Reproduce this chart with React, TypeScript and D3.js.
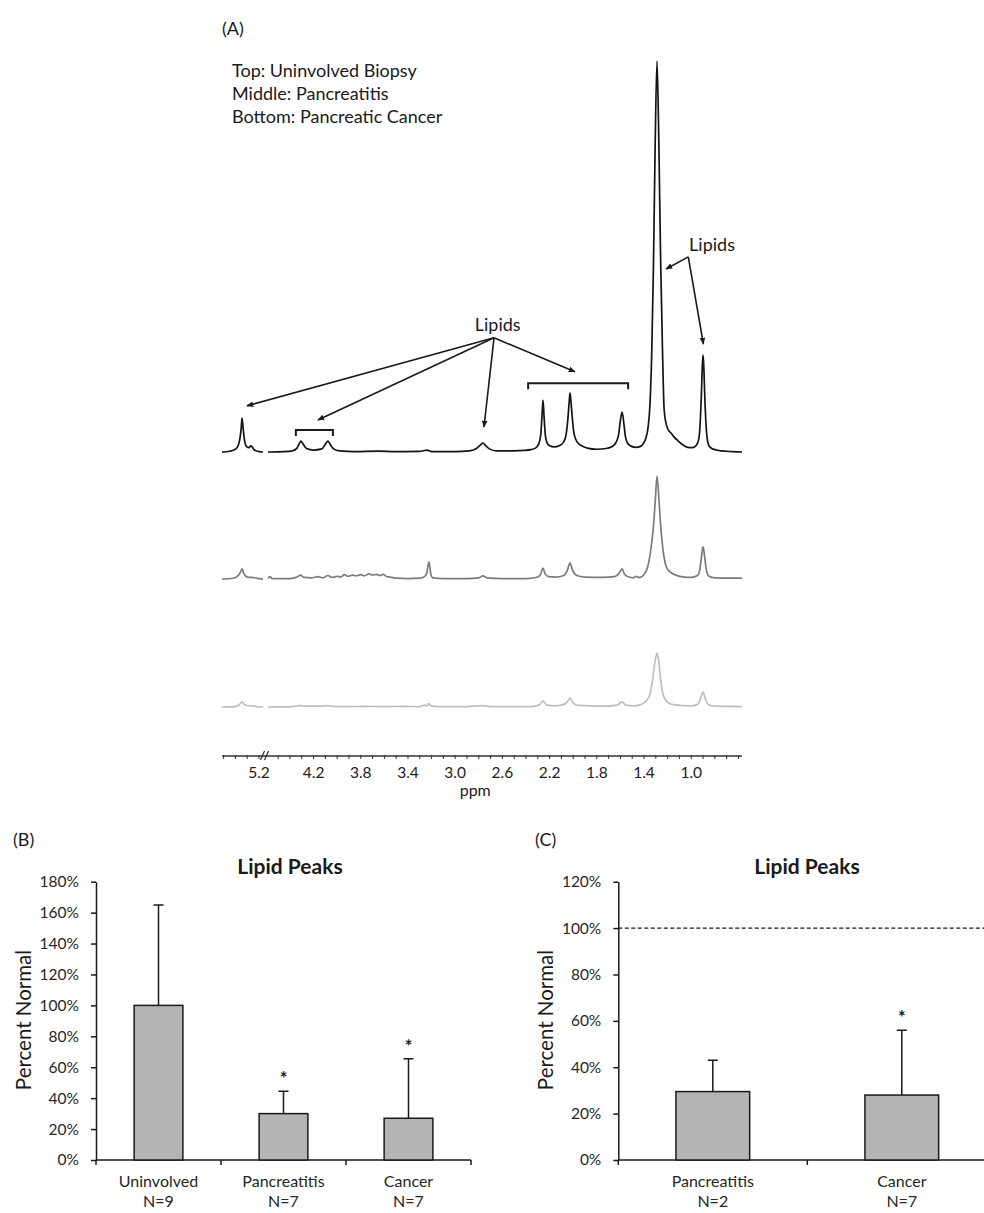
import { useRef, useEffect } from "react";
import * as d3 from "d3";

type Pt = [number, number];

// ---------- panel A: 1H spectra, [ppm, relative intensity] (tallest peak = 100)
const spectrumLabels = [
  "Top: Uninvolved Biopsy",
  "Middle: Pancreatitis",
  "Bottom: Pancreatic Cancer",
];
const ppmTickLabels = [5.2, 4.2, 3.8, 3.4, 3.0, 2.6, 2.2, 1.8, 1.4, 1.0];

const uninvolvedLow: Pt[] = [
  [5.514, 0], [5.45, 0.2], [5.4, 0.7], [5.375, 1.8], [5.36, 3.8], [5.35, 6.5],
  [5.344, 8.7], [5.336, 6.5], [5.323, 3], [5.305, 1.4], [5.285, 1.1], [5.27, 1.6],
  [5.258, 1.3], [5.24, 0.5], [5.2, 0.1], [5.166, 0],
];
const uninvolvedHigh: Pt[] = [
  [4.586, 0], [4.45, 0.1], [4.38, 0.3], [4.34, 1.0], [4.32, 2.2], [4.307, 2.8],
  [4.29, 2.1], [4.26, 0.9], [4.2, 0.5], [4.13, 0.8], [4.1, 2.0], [4.078, 2.8],
  [4.06, 2.0], [4.03, 0.8], [3.98, 0.3], [3.85, 0.1], [3.65, 0.2], [3.5, 0.1],
  [3.3, 0.15], [3.24, 0.5], [3.2, 0.1], [3.0, 0.1], [2.88, 0.3], [2.82, 0.9],
  [2.785, 1.8], [2.764, 2.3], [2.745, 1.7], [2.71, 0.8], [2.65, 0.3], [2.5, 0.3],
  [2.42, 0.4], [2.36, 0.6], [2.32, 1.0], [2.29, 2.2], [2.275, 4.5], [2.265, 9],
  [2.256, 13.3], [2.247, 9], [2.237, 4.5], [2.225, 2.6], [2.2, 1.6], [2.16, 1.3],
  [2.12, 1.6], [2.08, 2.6], [2.06, 4.5], [2.045, 8.5], [2.035, 12.5], [2.027, 15.1],
  [2.018, 12.5], [2.007, 8.5], [1.995, 5], [1.975, 3], [1.94, 1.8], [1.88, 1.0],
  [1.8, 0.7], [1.72, 0.9], [1.67, 1.4], [1.635, 2.6], [1.615, 4.5], [1.603, 7.5],
  [1.586, 10.2], [1.57, 7], [1.558, 4], [1.54, 2.3], [1.51, 1.5], [1.47, 1.2],
  [1.44, 1.3], [1.41, 2.0], [1.385, 3.5], [1.365, 6.5], [1.35, 12], [1.335, 25],
  [1.32, 48], [1.305, 80], [1.29, 100], [1.275, 80], [1.26, 50], [1.245, 28],
  [1.23, 11], [1.215, 7.5], [1.2, 6], [1.17, 4.8], [1.15, 4], [1.11, 2.8],
  [1.07, 1.8], [1.03, 1.2], [0.99, 1.1], [0.955, 1.8], [0.935, 3.5], [0.925, 7],
  [0.915, 14], [0.906, 22], [0.9, 24.8], [0.894, 22], [0.885, 14], [0.875, 7],
  [0.865, 3.5], [0.85, 1.6], [0.82, 0.8], [0.75, 0.3], [0.65, 0.1], [0.57, 0],
];

const pancreatitisLow: Pt[] = [
  [5.514, 0], [5.42, 0.2], [5.38, 0.8], [5.36, 1.6], [5.344, 2.6], [5.33, 1.5],
  [5.3, 0.5], [5.26, 0.4], [5.2, 0.1], [5.166, 0],
];
const pancreatitisHigh: Pt[] = [
  [4.586, 0.2], [4.57, 0.6], [4.55, 0.1], [4.4, 0.1], [4.34, 0.5], [4.31, 1.0],
  [4.28, 0.4], [4.22, 0.3], [4.16, 0.6], [4.12, 0.3], [4.08, 0.9], [4.04, 0.4],
  [4.0, 0.7], [3.97, 0.5], [3.94, 1.1], [3.91, 0.7], [3.87, 1.0], [3.84, 0.8],
  [3.8, 1.1], [3.77, 0.8], [3.73, 1.3], [3.7, 1.0], [3.67, 1.2], [3.64, 0.9],
  [3.61, 1.2], [3.58, 0.6], [3.55, 0.5], [3.5, 0.2], [3.4, 0.1], [3.3, 0.2],
  [3.26, 0.6], [3.24, 1.5], [3.23, 3.5], [3.222, 4.4], [3.214, 3.0], [3.205, 1.0],
  [3.19, 0.3], [3.1, 0.1], [2.9, 0.1], [2.8, 0.3], [2.764, 0.8], [2.73, 0.3],
  [2.6, 0.1], [2.4, 0.1], [2.3, 0.5], [2.275, 1.3], [2.256, 2.8], [2.238, 1.3],
  [2.21, 0.6], [2.15, 0.5], [2.08, 0.9], [2.05, 2.2], [2.027, 4.1], [2.005, 2.2],
  [1.97, 0.9], [1.9, 0.5], [1.75, 0.4], [1.65, 0.6], [1.61, 1.5], [1.586, 2.6],
  [1.565, 1.2], [1.53, 0.5], [1.49, 0.3], [1.47, 0.7], [1.45, 0.4], [1.42, 0.6],
  [1.4, 1.2], [1.37, 3], [1.35, 6], [1.32, 13.5], [1.305, 20], [1.29, 26.3],
  [1.275, 21], [1.26, 14], [1.245, 9], [1.23, 5.5], [1.21, 3], [1.18, 1.8],
  [1.13, 1], [1.06, 0.5], [1.0, 0.4], [0.95, 0.8], [0.93, 2], [0.918, 4.5],
  [0.908, 7], [0.9, 8.2], [0.892, 7], [0.882, 4.5], [0.87, 2], [0.85, 0.7],
  [0.8, 0.3], [0.57, 0.2],
];

const cancerLow: Pt[] = [
  [5.514, 0], [5.4, 0.1], [5.37, 0.5], [5.344, 1.3], [5.32, 0.5], [5.28, 0.3],
  [5.26, 0.35], [5.22, 0.1], [5.166, 0],
];
const cancerHigh: Pt[] = [
  [4.586, 0], [4.4, 0.05], [4.33, 0.3], [4.31, 0.4], [4.28, 0.2], [4.12, 0.2],
  [4.08, 0.35], [4.04, 0.15], [3.9, 0.1], [3.75, 0.15], [3.6, 0.1], [3.45, 0.15],
  [3.3, 0.1], [3.26, 0.5], [3.245, 0.3], [3.225, 0.9], [3.205, 0.3], [3.15, 0.1],
  [2.9, 0.1], [2.764, 0.35], [2.7, 0.1], [2.35, 0.1], [2.29, 0.5], [2.256, 1.5],
  [2.225, 0.5], [2.15, 0.3], [2.07, 0.8], [2.045, 1.6], [2.027, 2.3], [2.005, 1.2],
  [1.96, 0.4], [1.75, 0.2], [1.63, 0.5], [1.586, 1.3], [1.55, 0.4], [1.48, 0.3],
  [1.42, 0.7], [1.38, 1.6], [1.35, 3.2], [1.325, 7.5], [1.305, 12], [1.29, 13.8],
  [1.275, 11.5], [1.26, 7], [1.245, 4], [1.225, 2.2], [1.2, 1.2], [1.15, 0.6],
  [1.0, 0.3], [0.95, 0.6], [0.925, 1.8], [0.91, 3.2], [0.9, 3.8], [0.89, 3.1],
  [0.875, 1.6], [0.85, 0.5], [0.8, 0.2], [0.57, 0.1],
];

// annotation anchors on the top spectrum, in [ppm, intensity]
const lipidLabels: Pt[] = [[2.64, 30.9], [0.824, 51.4]];
const lipidArrows: { from: Pt; to: Pt }[] = [
  { from: [2.671, 29.2], to: [5.302, 11.8] },
  { from: [2.671, 29.2], to: [4.163, 8.2] },
  { from: [2.671, 29.2], to: [2.756, 6.4] },
  { from: [2.671, 29.2], to: [1.985, 20.5] },
  { from: [1.025, 49.9], to: [1.214, 46.8] },
  { from: [1.025, 49.9], to: [0.897, 27.6] },
];
const lipidBrackets = [
  { from: 4.35, to: 4.036, level: 5.6 },
  { from: 2.382, to: 1.535, level: 17.6 },
];

// ---------- panel B
const groupsB = ["Uninvolved", "Pancreatitis", "Cancer"];
const sizesB = ["N=9", "N=7", "N=7"];
const meansB = [100, 30, 27];
const errorsB = [65, 14.5, 38.5];
const starsB = [false, true, true];
const ticksB = [0, 20, 40, 60, 80, 100, 120, 140, 160, 180];

// ---------- panel C
const groupsC = ["Pancreatitis", "Cancer"];
const sizesC = ["N=2", "N=7"];
const meansC = [29.5, 28];
const errorsC = [13.5, 28];
const starsC = [false, true];
const ticksC = [0, 20, 40, 60, 80, 100, 120];
const referenceC = 100;

const FONT = "Lato, 'Open Sans', sans-serif";
const INK = "#1a1a1a";

const App = () => {
  const container = useRef<SVGSVGElement>(null);

  useEffect(() => {
    createChart();
  });

  const createChart = () => {
    const svg = d3.select(container.current);
    svg.selectAll("*").remove();

    svg
      .append("defs")
      .append("marker")
      .attr("id", "head")
      .attr("viewBox", "0 0 10 10")
      .attr("refX", 9)
      .attr("refY", 5)
      .attr("markerWidth", 7)
      .attr("markerHeight", 7)
      .attr("markerUnits", "userSpaceOnUse")
      .attr("orient", "auto")
      .append("path")
      .attr("d", "M0,1 L10,5 L0,9 z")
      .attr("fill", INK);

    // ---------------- (A) spectra
    const x = d3
      .scaleLinear()
      .domain([5.514, 5.166, 4.586, 0.57])
      .range([222, 263, 268, 742]);
    const h = d3.scaleLinear().domain([0, 100]).range([0, 391]);
    const baselines = [452, 579, 707];
    const colors = ["#141414", "#7b7b7b", "#bebebe"];
    const spectra = [
      [uninvolvedLow, uninvolvedHigh],
      [pancreatitisLow, pancreatitisHigh],
      [cancerLow, cancerHigh],
    ];

    const gA = svg.append("g").attr("font-family", FONT).attr("fill", INK);
    gA.append("text").attr("x", 222).attr("y", 35).attr("font-size", 18).text("(A)");
    gA.selectAll(".legend")
      .data(spectrumLabels)
      .join("text")
      .attr("class", "legend")
      .attr("x", 232)
      .attr("y", (d, i) => 77 + i * 23)
      .attr("font-size", 18)
      .text((d) => d);

    spectra.forEach((segs, i) => {
      const line = d3
        .line<Pt>()
        .x((d) => x(d[0]))
        .y((d) => baselines[i] - h(d[1]))
        .curve(d3.curveMonotoneX);
      segs.forEach((seg) => {
        gA.append("path")
          .datum(seg)
          .attr("d", line)
          .attr("fill", "none")
          .attr("stroke", colors[i])
          .attr("stroke-width", 1.7)
          .attr("stroke-linejoin", "round");
      });
    });

    // annotations on the top trace
    const ay = (v: number) => baselines[0] - h(v);
    gA.selectAll(".lipid-label")
      .data(lipidLabels)
      .join("text")
      .attr("class", "lipid-label")
      .attr("x", (d) => x(d[0]))
      .attr("y", (d) => ay(d[1]))
      .attr("text-anchor", "middle")
      .attr("font-size", 18)
      .text("Lipids");
    gA.selectAll(".lipid-arrow")
      .data(lipidArrows)
      .join("line")
      .attr("class", "lipid-arrow")
      .attr("x1", (d) => x(d.from[0]))
      .attr("y1", (d) => ay(d.from[1]))
      .attr("x2", (d) => x(d.to[0]))
      .attr("y2", (d) => ay(d.to[1]))
      .attr("stroke", INK)
      .attr("stroke-width", 1.6)
      .attr("marker-end", "url(#head)");
    gA.selectAll(".bracket")
      .data(lipidBrackets)
      .join("path")
      .attr("class", "bracket")
      .attr("d", (d) => {
        const y = ay(d.level);
        return `M${x(d.from)},${y + 6}V${y}H${x(d.to)}V${y + 6}`;
      })
      .attr("fill", "none")
      .attr("stroke", INK)
      .attr("stroke-width", 2);

    // ppm axis with a break
    const axisY = 756;
    const gx = gA.append("g").attr("stroke", "#333");
    gx.append("line")
      .attr("x1", x(5.514))
      .attr("x2", x(0.57))
      .attr("y1", axisY)
      .attr("y2", axisY)
      .attr("stroke-width", 1.3);
    const minor = [...d3.range(55, 51, -1), ...d3.range(45, 5, -1)].map((v) => v / 10);
    gx.selectAll(".minor")
      .data(minor)
      .join("line")
      .attr("class", "minor")
      .attr("x1", (d) => x(d))
      .attr("x2", (d) => x(d))
      .attr("y1", axisY - 1)
      .attr("y2", axisY + 3)
      .attr("stroke-width", 1);
    const cx = (x(5.166) + x(4.586)) / 2;
    [-3, 1].forEach((o) => {
      gx.append("line")
        .attr("x1", cx + o - 2)
        .attr("y1", axisY + 4)
        .attr("x2", cx + o + 2)
        .attr("y2", axisY - 5)
        .attr("stroke-width", 1.3);
    });
    gA.selectAll(".ppm-label")
      .data(ppmTickLabels)
      .join("text")
      .attr("class", "ppm-label")
      .attr("x", (d) => x(d))
      .attr("y", 778)
      .attr("text-anchor", "middle")
      .attr("font-size", 15.5)
      .attr("fill", "#222")
      .text((d) => d3.format(".1f")(d));
    gA.append("text")
      .attr("x", x(2.83))
      .attr("y", 796)
      .attr("text-anchor", "middle")
      .attr("font-size", 16)
      .text("ppm");

    // ---------------- (B) and (C) bar charts
    const barPanel = (o: {
      tag: string;
      tagX: number;
      x0: number;
      x1: number;
      titleX: number;
      labelX: number;
      max: number;
      ticks: number[];
      groups: string[];
      sizes: string[];
      means: number[];
      errors: number[];
      stars: boolean[];
      reference?: number;
    }) => {
      const g = svg.append("g").attr("font-family", FONT).attr("fill", INK);
      const y = d3.scaleLinear().domain([0, o.max]).range([1160, 881.7]);
      const xb = d3.scaleBand().domain(o.groups).range([o.x0, o.x1]);
      const bw = xb.bandwidth() * 0.39;
      const mid = (d: string) => (xb(d) as number) + xb.bandwidth() / 2;

      g.append("text").attr("x", o.tagX).attr("y", 846).attr("font-size", 18).text(o.tag);
      g.append("text")
        .attr("x", o.titleX)
        .attr("y", 874)
        .attr("text-anchor", "middle")
        .attr("font-size", 21)
        .attr("font-weight", "bold")
        .text("Lipid Peaks");
      g.append("text")
        .attr("transform", `translate(${o.labelX},1020) rotate(-90)`)
        .attr("text-anchor", "middle")
        .attr("font-size", 20.5)
        .text("Percent Normal");

      if (o.reference !== undefined) {
        g.append("line")
          .attr("x1", o.x0)
          .attr("x2", 984)
          .attr("y1", y(o.reference))
          .attr("y2", y(o.reference))
          .attr("stroke", INK)
          .attr("stroke-width", 1.4)
          .attr("stroke-dasharray", "4,2.5");
      }

      const yAxis = d3
        .axisLeft(y)
        .tickValues(o.ticks)
        .tickSize(5)
        .tickSizeOuter(0)
        .tickPadding(12)
        .tickFormat((d) => `${d}%`);
      const ya = g.append("g").attr("transform", `translate(${o.x0},0)`).call(yAxis);
      ya.selectAll("text").attr("font-family", FONT).attr("font-size", 15.5).attr("fill", "#262626");
      ya.selectAll("line,path").attr("stroke", INK).attr("stroke-width", 1.5);

      g.append("line")
        .attr("x1", o.x0)
        .attr("x2", o.x1)
        .attr("y1", y(0))
        .attr("y2", y(0))
        .attr("stroke", INK)
        .attr("stroke-width", 1.5);
      const bounds = [...o.groups.map((d) => xb(d) as number), o.x1];
      g.selectAll(".xtick")
        .data(bounds)
        .join("line")
        .attr("class", "xtick")
        .attr("x1", (d) => d)
        .attr("x2", (d) => d)
        .attr("y1", y(0))
        .attr("y2", y(0) + 5)
        .attr("stroke", INK)
        .attr("stroke-width", 1.5);

      const rows = o.groups.map((gname, i) => ({
        g: gname,
        n: o.sizes[i],
        m: o.means[i],
        e: o.errors[i],
        s: o.stars[i],
      }));

      g.selectAll(".err")
        .data(rows)
        .join("path")
        .attr("class", "err")
        .attr("d", (d) => {
          const c = mid(d.g);
          const top = y(d.m + d.e);
          return `M${c},${y(d.m)}V${top}M${c - 5},${top}H${c + 5}`;
        })
        .attr("fill", "none")
        .attr("stroke", INK)
        .attr("stroke-width", 1.5);

      g.selectAll(".bar")
        .data(rows)
        .join("rect")
        .attr("class", "bar")
        .attr("x", (d) => mid(d.g) - bw / 2)
        .attr("y", (d) => y(d.m))
        .attr("width", bw)
        .attr("height", (d) => y(0) - y(d.m))
        .attr("fill", "#b4b4b4")
        .attr("stroke", INK)
        .attr("stroke-width", 1.5);

      g.selectAll(".star")
        .data(rows.filter((d) => d.s))
        .join("text")
        .attr("class", "star")
        .attr("x", (d) => mid(d.g))
        .attr("y", (d) => y(d.m + d.e) - 6)
        .attr("text-anchor", "middle")
        .attr("font-size", 18)
        .attr("font-weight", "bold")
        .text("*");

      g.selectAll(".cat")
        .data(rows)
        .join("text")
        .attr("class", "cat")
        .attr("x", (d) => mid(d.g))
        .attr("y", 1187)
        .attr("text-anchor", "middle")
        .attr("font-size", 16)
        .attr("fill", "#262626")
        .text((d) => d.g);
      g.selectAll(".num")
        .data(rows)
        .join("text")
        .attr("class", "num")
        .attr("x", (d) => mid(d.g))
        .attr("y", 1207)
        .attr("text-anchor", "middle")
        .attr("font-size", 16)
        .attr("fill", "#262626")
        .text((d) => d.n);
    };

    barPanel({
      tag: "(B)",
      tagX: 13,
      x0: 96,
      x1: 471,
      titleX: 290,
      labelX: 31,
      max: 180,
      ticks: ticksB,
      groups: groupsB,
      sizes: sizesB,
      means: meansB,
      errors: errorsB,
      stars: starsB,
    });
    barPanel({
      tag: "(C)",
      tagX: 535,
      x0: 618.3,
      x1: 996.3,
      titleX: 807,
      labelX: 553,
      max: 120,
      ticks: ticksC,
      groups: groupsC,
      sizes: sizesC,
      means: meansC,
      errors: errorsC,
      stars: starsC,
      reference: referenceC,
    });
  };

  return (
    <svg
      ref={container}
      width={984}
      height={1213}
      style={{ position: "absolute", left: 0, top: 0, background: "#fff" }}
    />
  );
};

export default App;
